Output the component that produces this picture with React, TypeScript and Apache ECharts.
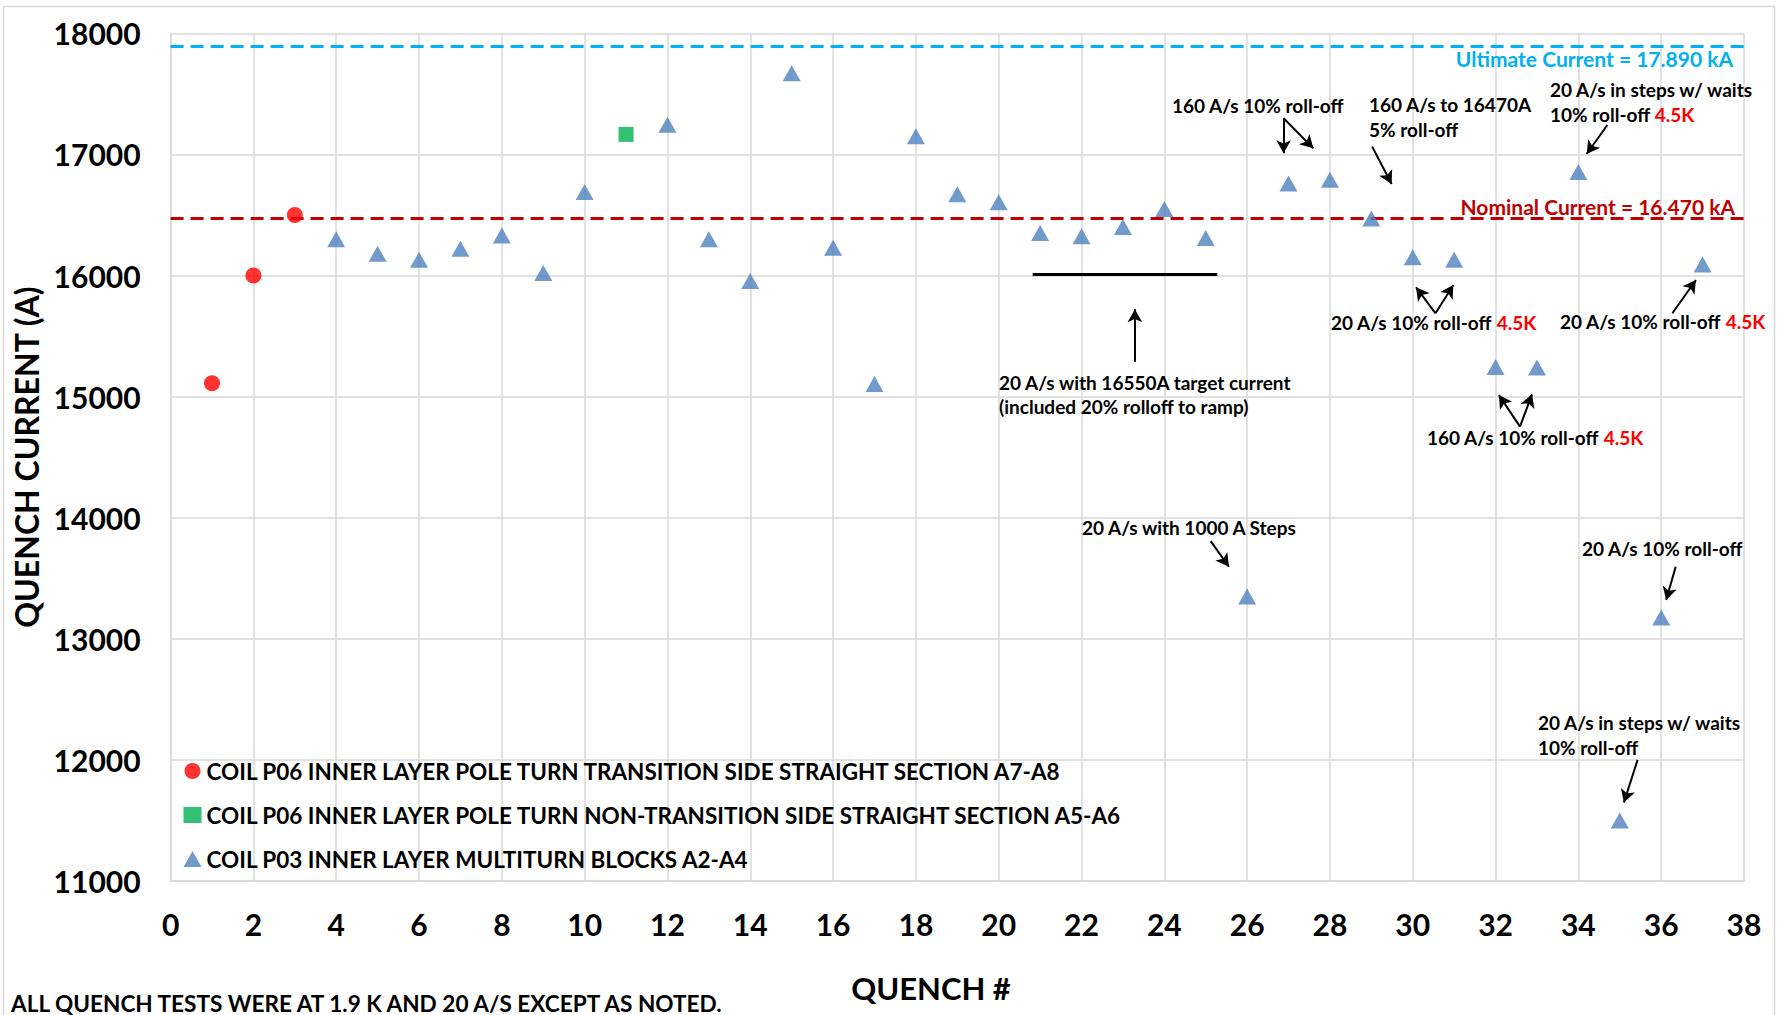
import React, { useEffect, useRef } from "react";
import * as echarts from "echarts";

// ---------- data ----------
const transitionX = [1, 2, 3];
const transitionY = [15110, 16000, 16500];

const nonTransitionX = [11];
const nonTransitionY = [17165];

const multiturnX = [4, 5, 6, 7, 8, 9, 10, 12, 13, 14, 15, 16, 17, 18, 19, 20, 21, 22, 23, 24, 25, 26, 27, 28, 29, 30, 31, 32, 33, 34, 35, 36, 37];
const multiturnY = [16300, 16180, 16130, 16220, 16330, 16020, 16690, 17245, 16300, 15955, 17670, 16230, 15105, 17150, 16670, 16605, 16350, 16325, 16400, 16550, 16310, 13350, 16760, 16790, 16470, 16150, 16130, 15245, 15240, 16855, 11500, 13175, 16090];

const seriesNames = [
  "COIL P06 INNER LAYER POLE TURN TRANSITION SIDE STRAIGHT SECTION A7-A8",
  "COIL P06 INNER LAYER POLE TURN NON-TRANSITION SIDE STRAIGHT SECTION A5-A6",
  "COIL P03 INNER LAYER MULTITURN BLOCKS A2-A4",
];

const ultimateCurrent = 17890;
const nominalCurrent = 16470;

const xMin = 0;
const xMax = 38;
const xInterval = 2;
const yMin = 11000;
const yMax = 18000;
const yInterval = 1000;

// annotation arrows in data space: [x1, y1, x2, y2] (arrow head at second point)
const arrowsData = [
  [26.88, 17298, 26.88, 17009],
  [26.88, 17298, 27.6, 17050],
  [29.02, 17064, 29.49, 16756],
  [34.7, 17243, 34.2, 17003],
  [30.55, 15688, 30.08, 15903],
  [30.55, 15688, 30.98, 15922],
  [36.27, 15688, 36.84, 15963],
  [32.59, 14752, 32.08, 15013],
  [32.59, 14752, 32.88, 15019],
  [23.29, 15288, 23.29, 15721],
  [25.12, 13806, 25.56, 13595],
  [36.35, 13595, 36.12, 13320],
  [35.43, 12000, 35.1, 11648],
];
// plain bar marking quenches 21-25 target current
const targetBar = [20.82, 16010, 25.28, 16010];

// ---------- styling ----------
const FONT = "Lato";
const GRID_COLOR = "#D9D9D9";
const ANN_SIZE = 19;

const zip = (xs: number[], ys: number[]) => xs.map((x, i) => [x, ys[i]]);

function annText(x: number, y: number, text: string, opts: any = {}) {
  return {
    type: "text",
    x,
    y,
    silent: true,
    z: 100,
    style: {
      text,
      fontFamily: FONT,
      fontWeight: "bold",
      fontSize: opts.fontSize ?? ANN_SIZE,
      fill: opts.fill ?? "#000",
      align: opts.align ?? "left",
      verticalAlign: "middle",
      rich: opts.rich,
    },
  };
}

const richRed = {
  n: { fontFamily: FONT, fontWeight: "bold", fontSize: ANN_SIZE, fill: "#000", color: "#000" },
  r: { fontFamily: FONT, fontWeight: "bold", fontSize: ANN_SIZE, fill: "#FF0000", color: "#FF0000" },
};

function buildOption() {
  const arrowLines: any[] = arrowsData.map((a) => [
    { coord: [a[0], a[1]], symbol: "none" },
    { coord: [a[2], a[3]], symbol: "arrow" },
  ]);
  arrowLines.push([
    { coord: [targetBar[0], targetBar[1]], symbol: "none", lineStyle: { width: 3 } },
    { coord: [targetBar[2], targetBar[3]], symbol: "none" },
  ]);

  return {
    animation: false,
    backgroundColor: "#ffffff",
    grid: { left: 170.6, right: 39, top: 33.3, bottom: 134, containLabel: false },
    xAxis: {
      type: "value",
      min: xMin,
      max: xMax,
      interval: xInterval,
      axisLine: { show: true, lineStyle: { color: GRID_COLOR, width: 1.5 } },
      axisTick: { show: false },
      axisLabel: { fontFamily: FONT, fontWeight: "bold", fontSize: 30, color: "#000", margin: 28 },
      splitLine: { show: true, lineStyle: { color: GRID_COLOR, width: 1.5 } },
    },
    yAxis: {
      type: "value",
      min: yMin,
      max: yMax,
      interval: yInterval,
      name: "QUENCH CURRENT (A)",
      nameLocation: "middle",
      nameGap: 127,
      nameTextStyle: { fontFamily: FONT, fontWeight: "bold", fontSize: 32, color: "#000", lineHeight: 32 },
      axisLine: { show: true, lineStyle: { color: GRID_COLOR, width: 1.5 } },
      axisTick: { show: false },
      axisLabel: {
        fontFamily: FONT,
        fontWeight: "bold",
        fontSize: 30,
        color: "#000",
        margin: 30,
        formatter: (v: number) => String(v),
      },
      splitLine: { show: true, lineStyle: { color: GRID_COLOR, width: 1.5 } },
    },
    legend: {
      orient: "vertical",
      left: 183.5,
      top: 759,
      padding: 0,
      itemGap: 20,
      itemWidth: 18,
      itemHeight: 16,
      selectedMode: false,
      textStyle: { fontFamily: FONT, fontWeight: "bold", fontSize: 22.5, color: "#000", lineHeight: 24 },
      data: seriesNames,
    },
    series: [
      {
        name: seriesNames[0],
        type: "scatter",
        symbol: "circle",
        symbolSize: 16,
        itemStyle: { color: "#FF0000" },
        data: zip(transitionX, transitionY),
        z: 5,
        markLine: {
          silent: true,
          symbol: ["none", "none"],
          label: { show: false },
          data: [
            { yAxis: ultimateCurrent, lineStyle: { color: "#00B0F0", width: 3, type: [13, 7] } },
            { yAxis: nominalCurrent, lineStyle: { color: "#C00000", width: 3, type: [13, 7] } },
          ],
        },
      },
      {
        name: seriesNames[1],
        type: "scatter",
        symbol: "rect",
        symbolSize: 15,
        itemStyle: { color: "#00B050" },
        data: zip(nonTransitionX, nonTransitionY),
        z: 5,
      },
      {
        name: seriesNames[2],
        type: "scatter",
        symbol: "triangle",
        symbolSize: [18, 16],
        itemStyle: { color: "#4F81BD" },
        data: zip(multiturnX, multiturnY),
        z: 5,
        markLine: {
          silent: true,
          symbol: ["none", "arrow"],
          symbolSize: [11, 13],
          label: { show: false },
          lineStyle: { color: "#000", width: 2, type: "solid" },
          data: arrowLines,
        },
      },
    ],
    graphic: [
      {
        type: "rect",
        silent: true,
        z: -10,
        shape: { x: 3.5, y: 6.5, width: 1771, height: 1100 },
        style: { fill: "none", stroke: GRID_COLOR, lineWidth: 1.5 },
      },
      annText(931, 988, "QUENCH #", { fontSize: 31, align: "center" }),
      annText(1733, 58, "Ultimate Current = 17.890 kA", { fontSize: 21, fill: "#00B0F0", align: "right" }),
      annText(1735, 206, "Nominal Current = 16.470 kA", { fontSize: 21, fill: "#C00000", align: "right" }),
      annText(1172, 105, "160 A/s 10% roll-off"),
      annText(1369, 104, "160 A/s to 16470A"),
      annText(1369, 129, "5% roll-off"),
      annText(1550, 89, "20 A/s in steps w/ waits"),
      annText(1550, 114, "{n|10% roll-off} {r|4.5K}", { rich: richRed }),
      annText(1331, 322, "{n|20 A/s 10% roll-off} {r|4.5K}", { rich: richRed }),
      annText(1560, 321, "{n|20 A/s 10% roll-off} {r|4.5K}", { rich: richRed }),
      annText(1427, 437, "{n|160 A/s 10% roll-off} {r|4.5K}", { rich: richRed }),
      annText(999, 382, "20 A/s with 16550A target current"),
      annText(999, 406, "(included 20% rolloff to ramp)"),
      annText(1082, 527, "20 A/s with 1000 A Steps"),
      annText(1582, 548, "20 A/s 10% roll-off"),
      annText(1538, 722, "20 A/s in steps w/ waits"),
      annText(1538, 747, "10% roll-off"),
      annText(11, 1003, "ALL QUENCH TESTS WERE AT 1.9 K AND 20 A/S EXCEPT AS NOTED.", { fontSize: 22.6 }),
    ],
  };
}

export default function App() {
  const ref = useRef<HTMLDivElement>(null);
  useEffect(() => {
    if (!ref.current) return;
    const chart = echarts.init(ref.current, null, { renderer: "svg" });
    chart.setOption(buildOption() as any);
    return () => chart.dispose();
  }, []);
  return (
    <div
      ref={ref}
      style={{ position: "absolute", left: 0, top: 0, width: 1783, height: 1015, background: "#fff" }}
    />
  );
}
